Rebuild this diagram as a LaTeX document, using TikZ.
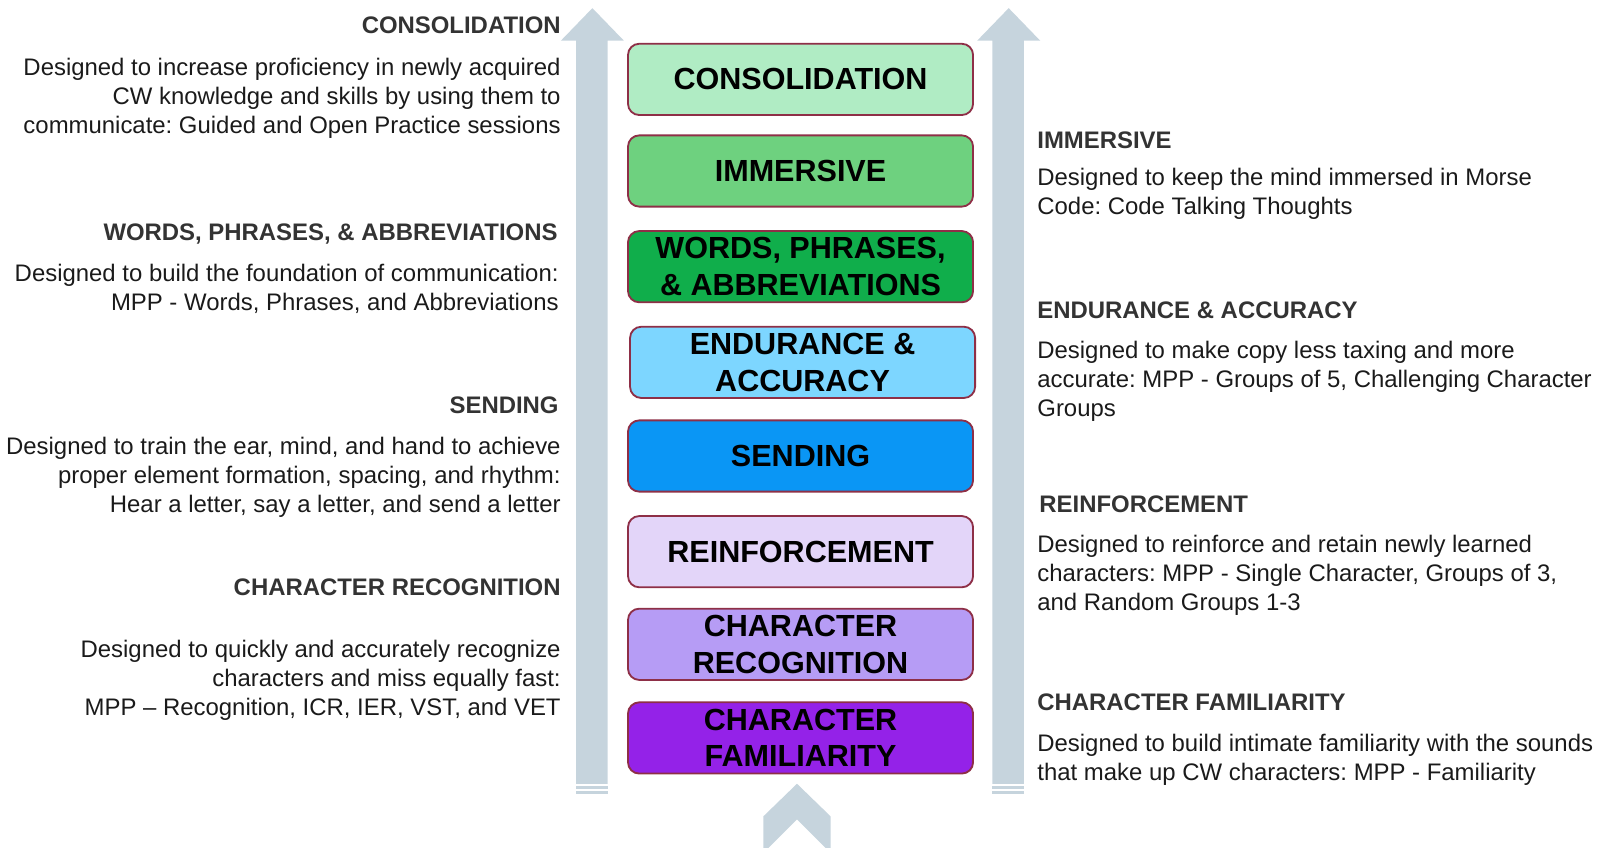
\documentclass[tikz,border=0pt]{standalone}
\usepackage{fontspec}
\setmainfont{Liberation Sans}
\frenchspacing
\definecolor{arrowc}{HTML}{C6D4DD}
\definecolor{bord}{HTML}{8E2F47}
\definecolor{headc}{HTML}{333333}
\definecolor{bodyc}{HTML}{1A1A1A}
\definecolor{cA}{HTML}{B0ECC4}
\definecolor{cB}{HTML}{6ED17F}
\definecolor{cC}{HTML}{10AE4B}
\definecolor{cD}{HTML}{7DD6FF}
\definecolor{cE}{HTML}{0A96F5}
\definecolor{cF}{HTML}{E3D5F9}
\definecolor{cG}{HTML}{B69CF5}
\definecolor{cH}{HTML}{9422E8}
\tikzset{
  stage/.style={draw=bord, line width=1.8pt, rounded corners=11pt,
    minimum width=339pt, minimum height=70pt, inner sep=0pt, align=center,
    font=\fontsize{30}{36}\selectfont\bfseries, text=black},
  headL/.style={anchor=east, inner sep=0pt, font=\fontsize{23.5}{28.5}\selectfont\bfseries, text=headc},
  bodyL/.style={anchor=east, inner sep=0pt, align=right, font=\fontsize{23.5}{28.5}\selectfont, text=bodyc},
  headR/.style={anchor=west, inner sep=0pt, font=\fontsize{23.5}{28.5}\selectfont\bfseries, text=headc},
  bodyR/.style={anchor=west, inner sep=0pt, align=left, font=\fontsize{23.5}{28.5}\selectfont, text=bodyc},
  bigarrow/.style={fill=arrowc}
}
\begin{document}
\begin{tikzpicture}[x=1pt,y=-1pt]
\useasboundingbox (0,0) rectangle (1569,833);
% side arrows
\fill[bigarrow] (551,40) -- (582,8) -- (613,40) -- (597,40) -- (597,770) -- (566,770) -- (566,40) -- cycle;
\fill[bigarrow] (566,772.5) rectangle (597,775);
\fill[bigarrow] (566,777.5) rectangle (597,780);
\fill[bigarrow] (960,40) -- (991,8) -- (1022,40) -- (1006,40) -- (1006,770) -- (975,770) -- (975,40) -- cycle;
\fill[bigarrow] (975,772.5) rectangle (1006,775);
\fill[bigarrow] (975,777.5) rectangle (1006,780);
% bottom chevron
\fill[bigarrow] (750,833) -- (750,802) -- (783,770) -- (816,802) -- (816,833) -- (811,833) -- (783,805) -- (755,833) -- cycle;
% stages
\node[stage, fill=cA] (s1) at (786.5,78) {CONSOLIDATION};
\node[stage, fill=cB] (s2) at (786.5,168) {IMMERSIVE};
\node[stage, fill=cC] (s3) at (786.5,262) {WORDS, PHRASES,\\ \& ABBREVIATIONS};
\node[stage, fill=cD] (s4) at (788.5,356) {ENDURANCE \&\\ ACCURACY};
\node[stage, fill=cE] (s5) at (786.5,448) {SENDING};
\node[stage, fill=cF] (s6) at (786.5,542) {REINFORCEMENT};
\node[stage, fill=cG] (s7) at (786.5,633) {CHARACTER\\ RECOGNITION};
\node[stage, fill=cH] (s8) at (786.5,725) {CHARACTER\\ FAMILIARITY};
% left descriptions
\node[headL] (h1) at (551,25) {CONSOLIDATION};
\node[bodyL] (d1) at (551,97) {Designed to increase proficiency in newly acquired\\ CW knowledge and skills by using them to\\ communicate: Guided and Open Practice sessions};
\node[headL] (h3) at (548,230) {WORDS, PHRASES, \& ABBREVIATIONS};
\node[bodyL] (d3) at (549,284) {Designed to build the foundation of communication:\\ MPP - Words, Phrases, and Abbreviations};
\node[headL] (h5) at (549,398) {SENDING};
\node[bodyL] (d5) at (551,469) {Designed to train the ear, mind, and hand to achieve\\ proper element formation, spacing, and rhythm:\\ Hear a letter, say a letter, and send a letter};
\node[headL] (h7) at (551,577) {CHARACTER RECOGNITION};
\node[bodyL] (d7) at (551,668) {Designed to quickly and accurately recognize\\ characters and miss equally fast:\\ MPP – Recognition, ICR, IER, VST, and VET};
% right descriptions
\node[headR] (h2) at (1019,138) {IMMERSIVE};
\node[bodyR] (d2) at (1019,190) {Designed to keep the mind immersed in Morse\\ Code: Code Talking Thoughts};
\node[headR] (h4) at (1019,305) {ENDURANCE \& ACCURACY};
\node[bodyR] (d4) at (1019,375) {Designed to make copy less taxing and more\\ accurate: MPP - Groups of 5, Challenging Character\\ Groups};
\node[headR] (h6) at (1021,495) {REINFORCEMENT};
\node[bodyR] (d6) at (1019,565) {Designed to reinforce and retain newly learned\\ characters: MPP - Single Character, Groups of 3,\\ and Random Groups 1-3};
\node[headR] (h8) at (1019,690) {CHARACTER FAMILIARITY};
\node[bodyR] (d8) at (1019,746) {Designed to build intimate familiarity with the sounds\\ that make up CW characters: MPP - Familiarity};
\end{tikzpicture}
\end{document}
